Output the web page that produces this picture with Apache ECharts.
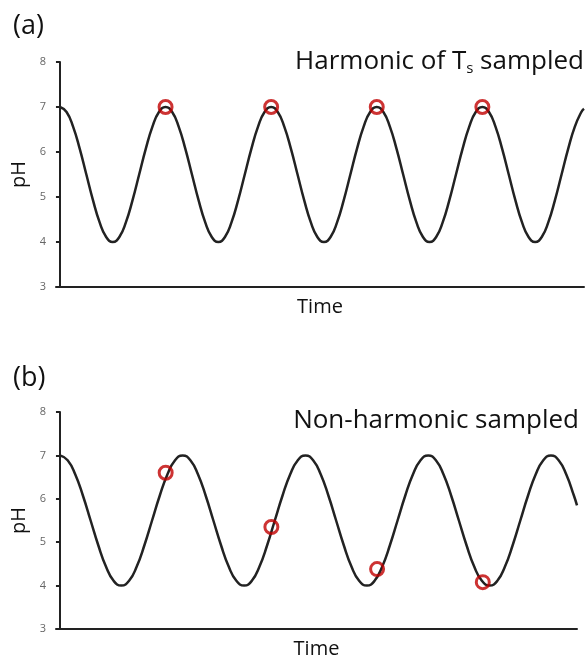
<!DOCTYPE html>
<html>
<head>
<meta charset="utf-8">
<script src="https://cdn.jsdelivr.net/npm/echarts@6/dist/echarts.min.js"></script>
<style>
  html, body { margin: 0; padding: 0; background: #fff; }
  #chart { width: 588px; height: 660px; }
</style>
</head>
<body>
<div id="chart"></div>
<script>
// (a) pH trace, read every half time unit
var aTime = [0, 0.5, 1, 1.5, 2, 2.5, 3, 3.5, 4, 4.5, 5, 5.5, 6, 6.5, 7, 7.5,
    8, 8.5, 9, 9.5, 10, 10.5, 11, 11.5, 12, 12.5, 13, 13.5, 14, 14.5, 15, 15.5,
    16, 16.5, 17, 17.5, 18, 18.5, 19, 19.5, 20, 20.5, 21, 21.5, 22, 22.5, 23, 23.5,
    24, 24.5, 25, 25.5, 26, 26.5, 27, 27.5, 28, 28.5, 29, 29.5, 30, 30.5, 31, 31.5,
    32, 32.5, 33, 33.5, 34, 34.5, 35, 35.5, 36, 36.5, 37, 37.5, 38, 38.5, 39, 39.5, 39.7];
var aPH = [7, 6.89, 6.56, 6.07, 5.5, 4.93, 4.44, 4.11, 4, 4.11, 4.44, 4.93, 5.5, 6.07, 6.56, 6.89,
    7, 6.89, 6.56, 6.07, 5.5, 4.93, 4.44, 4.11, 4, 4.11, 4.44, 4.93, 5.5, 6.07, 6.56, 6.89,
    7, 6.89, 6.56, 6.07, 5.5, 4.93, 4.44, 4.11, 4, 4.11, 4.44, 4.93, 5.5, 6.07, 6.56, 6.89,
    7, 6.89, 6.56, 6.07, 5.5, 4.93, 4.44, 4.11, 4, 4.11, 4.44, 4.93, 5.5, 6.07, 6.56, 6.89,
    7, 6.89, 6.56, 6.07, 5.5, 4.93, 4.44, 4.11, 4, 4.11, 4.44, 4.93, 5.5, 6.07, 6.56, 6.89, 6.96];

// (b) pH trace, longer period
var bTime = [0, 0.58, 1.16, 1.74, 2.32, 2.90, 3.48, 4.06, 4.64, 5.23, 5.81, 6.39, 6.97, 7.55, 8.13, 8.71,
    9.29, 9.87, 10.45, 11.03, 11.61, 12.19, 12.77, 13.35, 13.94, 14.52, 15.10, 15.68, 16.26, 16.84, 17.42, 18.00,
    18.58, 19.16, 19.74, 20.32, 20.90, 21.48, 22.06, 22.64, 23.23, 23.81, 24.39, 24.97, 25.55, 26.13, 26.71, 27.29,
    27.87, 28.45, 29.03, 29.61, 30.19, 30.77, 31.35, 31.93, 32.52, 33.10, 33.68, 34.26, 34.84, 35.42, 36.00, 36.58,
    37.16, 37.74, 38.32, 38.90, 39.13];
var bPH = [7, 6.89, 6.56, 6.07, 5.5, 4.93, 4.44, 4.11, 4, 4.11, 4.44, 4.93, 5.5, 6.07, 6.56, 6.89,
    7, 6.89, 6.56, 6.07, 5.5, 4.93, 4.44, 4.11, 4, 4.11, 4.44, 4.93, 5.5, 6.07, 6.56, 6.89,
    7, 6.89, 6.56, 6.07, 5.5, 4.93, 4.44, 4.11, 4, 4.11, 4.44, 4.93, 5.5, 6.07, 6.56, 6.89,
    7, 6.89, 6.56, 6.07, 5.5, 4.93, 4.44, 4.11, 4, 4.11, 4.44, 4.93, 5.5, 6.07, 6.56, 6.89,
    7, 6.89, 6.56, 6.07, 5.85];

// sampling instants and sampled values
var sampleTime = [8, 16, 24, 32];
var aSamplePH = [7, 7, 7, 7];
var bSamplePH = [6.6, 5.35, 4.38, 4.08];

var yTicks = [3, 4, 5, 6, 7, 8];

function pairs(xs, ys) {
    return xs.map(function (x, i) { return [x, ys[i]]; });
}

var FONT = '"Open Sans", sans-serif';

function xAxisFor(idx, max) {
    return {
        type: 'value', gridIndex: idx, min: -0.3, max: max,
        name: 'Time', nameLocation: 'middle', nameGap: 10,
        nameTextStyle: { fontFamily: FONT, fontSize: 20, color: '#111', verticalAlign: 'top' },
        axisLine: { lineStyle: { color: '#222', width: 2 } },
        axisTick: { show: false }, axisLabel: { show: false }, splitLine: { show: false }
    };
}

function yAxisFor(idx) {
    return {
        type: 'value', gridIndex: idx, min: yTicks[0], max: yTicks[yTicks.length - 1], interval: 1,
        name: 'pH', nameLocation: 'middle', nameGap: 24,
        nameTextStyle: { fontFamily: FONT, fontSize: 20, color: '#111' },
        axisLine: { show: true, lineStyle: { color: '#222', width: 2 } },
        axisTick: { show: true, length: 4, lineStyle: { color: '#222', width: 2 } },
        axisLabel: { fontFamily: FONT, fontSize: 11, color: '#666', margin: 10 },
        splitLine: { show: false }
    };
}

function curve(idx, xs, ys) {
    return {
        type: 'line', xAxisIndex: idx, yAxisIndex: idx, data: pairs(xs, ys),
        smooth: true, showSymbol: false, clip: false, silent: true,
        lineStyle: { color: '#222', width: 2.5 }
    };
}

function samples(idx, ys) {
    return {
        type: 'scatter', xAxisIndex: idx, yAxisIndex: idx, data: pairs(sampleTime, ys),
        symbol: 'circle', symbolSize: 13, z: 5,
        itemStyle: { color: 'rgba(0,0,0,0)', borderColor: '#c00000', borderWidth: 3 }
    };
}

var chart = echarts.init(document.getElementById('chart'));

var rich = {
    m: { fontFamily: FONT, fontSize: 26, fontWeight: 'normal', color: '#111' },
    s: { fontFamily: FONT, fontSize: 15, fontWeight: 'normal', color: '#111', padding: [14, 0, 0, 0] }
};

var labelStyle = { fontFamily: FONT, fontSize: 27, fontWeight: 'normal', color: '#111' };

var option = {
    animation: false,
    title: [
        { text: '(a)', left: 8, top: 8, textStyle: labelStyle },
        { text: '(b)', left: 8, top: 360, textStyle: labelStyle },
        { text: '{m|Harmonic of T}{s|s}{m| sampled}', right: -1, top: 42, textStyle: { fontWeight: 'normal', rich: rich } },
        { text: '{m|Non-harmonic sampled}', right: 4, top: 403, textStyle: { fontWeight: 'normal', rich: rich } }
    ],
    grid: [
        { left: 56, top: 62, width: 528, height: 225 },
        { left: 56, top: 412, width: 521, height: 218 }
    ],
    xAxis: [xAxisFor(0, 39.7), xAxisFor(1, 39.13)],
    yAxis: [yAxisFor(0), yAxisFor(1)],
    series: [
        curve(0, aTime, aPH),
        samples(0, aSamplePH),
        curve(1, bTime, bPH),
        samples(1, bSamplePH)
    ]
};

chart.setOption(option);

window.onresize = chart.resize;
</script>
</body>
</html>
